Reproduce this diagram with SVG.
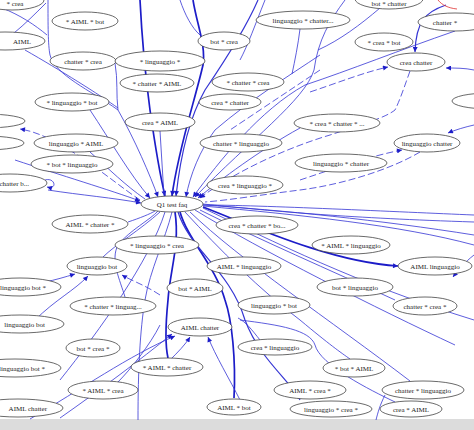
<svg xmlns="http://www.w3.org/2000/svg" width="474" height="430" viewBox="0 0 474 430">
<style>
.e{fill:none;stroke:#3535d4;stroke-width:0.8}
.d{stroke-dasharray:7,3}
.t{stroke-width:1.7;stroke:#1c1cc8}
.n ellipse{fill:#fff;stroke:#444;stroke-width:0.8}
.n text{font-family:"Liberation Serif",serif;font-size:7px;fill:#222;text-anchor:middle}
</style>
<defs>
<marker id="a" viewBox="0 0 10 10" refX="10" refY="5" markerWidth="7" markerHeight="5" orient="auto" markerUnits="userSpaceOnUse"><path d="M0,0L10,5L0,10z" fill="#1c1cc8"/></marker>
</defs>
<rect x="0" y="0" width="474" height="430" fill="#fff"/>
<rect x="0" y="419" width="474" height="11" fill="#dcdcdc"/>
<g id="connectors">
<path class="e" d="M2,8 C20,15 35,25 47,35"/>
<path class="e" d="M46,3 C35,14 25,24 14,33"/>
<path class="e" d="M48,0 C48,25 48,45 50,55 C55,75 90,90 118,110"/>
<path class="e" d="M25,50 C60,70 100,95 118,108"/>
<path class="e" d="M115,63 C118,80 116,95 118,110"/>
<path class="e t" d="M140,0 C142,40 146,80 150,110 C155,145 160,175 165,196" marker-end="url(#a)"/>
<path class="e" d="M118,110 C135,140 150,175 158,197" marker-end="url(#a)"/>
<path class="e" d="M90,110 C110,140 130,175 150,198" marker-end="url(#a)"/>
<path class="e t" d="M193,0 C197,25 206,45 203,65 C195,100 178,150 172,196" marker-end="url(#a)"/>
<path class="e" style="stroke-width:1.2" d="M258,0 C245,30 222,65 205,90 C188,120 180,160 176,196" marker-end="url(#a)"/>
<path class="e" d="M180,0 C185,15 192,28 200,35"/>
<path class="e" d="M265,0 C255,25 248,45 240,60"/>
<path class="e" d="M300,29 C298,45 295,60 292,74"/>
<path class="e" d="M320,55 C290,75 250,100 215,130 C200,150 190,175 186,197" marker-end="url(#a)"/>
<path class="e d" d="M320,70 C290,90 260,110 230,130"/>
<path class="e" d="M160,131 L164,196"/>
<path class="e" d="M345,0 C330,20 318,40 314,70 C305,100 250,140 195,197" marker-end="url(#a)"/>
<path class="e" d="M380,8 C360,25 340,40 318,50"/>
<path class="e" style="stroke-width:1.2" d="M446,5 C425,12 416,22 415,52" marker-end="url(#a)"/>
<path class="e" d="M455,31 C400,50 350,70 305,85 C260,110 220,160 193,197" marker-end="url(#a)"/>
<path class="e d" d="M310,92 C340,82 365,72 388,67" marker-end="url(#a)"/>
<path class="e" d="M474,70 C465,68 455,68 446,68" marker-end="url(#a)"/>
<path class="e d" d="M410,71 C405,85 400,100 395,110 C385,118 360,125 330,135 C280,150 230,175 200,198" marker-end="url(#a)"/>
<path class="e" d="M474,125 C465,127 455,130 448,133" marker-end="url(#a)"/>
<path class="e d" d="M300,180 C330,170 370,156 402,150" marker-end="url(#a)"/>
<path class="e d" d="M420,152 C390,170 340,185 300,190 C260,195 230,200 205,202"/>
<path class="e" d="M300,128 C260,150 220,180 198,198" marker-end="url(#a)"/>
<path class="e t" d="M203,207 C250,225 330,262 398,266" marker-end="url(#a)"/>
<path class="e" d="M203,205 C280,210 380,220 474,235"/>
<path class="e" d="M203,206 C300,215 400,225 474,245"/>
<path class="e" d="M474,255 C465,262 458,270 453,277" marker-end="url(#a)"/>
<path class="e" d="M203,208 C270,240 360,285 474,320"/>
<path class="e" d="M200,210 C260,240 330,270 395,300"/>
<path class="e" d="M203,204 C280,212 350,218 474,222"/>
<path class="e" d="M203,205 C260,205 400,212 474,215"/>
<path class="e t" d="M180,212 C188,240 215,265 225,300 C232,320 236,360 234,398"/>
<path class="e t" d="M175,212 C180,245 170,270 168,300 C166,320 165,345 168,358"/>
<path class="e" style="stroke-width:1.2" d="M178,212 C190,250 230,270 245,320 C260,360 290,380 300,400"/>
<path class="e" d="M172,212 C165,240 150,270 145,300 C140,330 138,370 138,420"/>
<path class="e" d="M185,212 C220,250 260,290 300,320 C330,345 340,352 350,359"/>
<path class="e" d="M190,212 C240,260 330,320 410,381"/>
<path class="e" d="M195,210 C260,250 380,310 455,345"/>
<path class="e" d="M160,212 C140,230 115,245 103,257"/>
<path class="e" d="M35,320 C55,300 75,290 88,276" marker-end="url(#a)"/>
<path class="e" d="M45,282 C55,280 65,277 75,274" marker-end="url(#a)"/>
<path class="e d" d="M160,295 C145,285 130,280 122,275" marker-end="url(#a)"/>
<path class="e" d="M125,297 C120,280 110,260 118,245 C130,230 150,220 158,211"/>
<path class="e" d="M128,222 C140,218 150,214 155,211"/>
<path class="e d" d="M140,200 C110,180 60,135 20,129" marker-end="url(#a)"/>
<path class="e" d="M15,160 C60,175 110,190 140,201" marker-end="url(#a)"/>
<path class="e" d="M48,190 C80,195 115,198 141,203" marker-end="url(#a)"/>
<path class="e" d="M45,180 C55,177 58,190 47,187" marker-end="url(#a)"/>
<path class="e" d="M90,152 C110,170 125,185 145,199"/>
<path class="e" d="M60,418 C100,390 140,360 172,334" marker-end="url(#a)"/>
<path class="e" d="M30,419 C80,390 130,355 175,336" marker-end="url(#a)"/>
<path class="e" d="M170,360 C178,352 185,345 190,337" marker-end="url(#a)"/>
<path class="e" d="M240,400 C230,380 215,355 208,337" marker-end="url(#a)"/>
<path class="e" d="M160,325 C150,345 130,370 118,382"/>
<path class="e" d="M260,340 C252,330 246,322 238,318"/>
<path class="e" d="M385,395 C380,405 378,412 376,420"/>
<path class="e" d="M240,320 C280,325 310,330 315,345 C320,365 370,390 395,402"/>
<path class="e" d="M165,212 C150,260 100,330 60,380"/>
<path fill="none" stroke="#e03030" stroke-width="0.8" d="M438,0 C442,5 448,8 457,9"/>
</g>
<g id="n1" class="n"><ellipse cx="12" cy="0" rx="32" ry="10"/><text x="15" y="6">* crea</text></g>
<g id="n2" class="n"><ellipse cx="5" cy="41" rx="40" ry="9"/><text x="22" y="44">AIML</text></g>
<g id="n3" class="n"><ellipse cx="85" cy="21" rx="33" ry="9"/><text x="85" y="24">* AIML * bot</text></g>
<g id="n4" class="n"><ellipse cx="83" cy="61" rx="33" ry="9"/><text x="83" y="64">chatter * crea</text></g>
<g id="n5" class="n"><ellipse cx="72" cy="102" rx="37" ry="9"/><text x="72" y="105">* linguaggio * bot</text></g>
<g id="n6" class="n"><ellipse cx="224" cy="41" rx="26" ry="9"/><text x="224" y="44">bot * crea</text></g>
<g id="n7" class="n"><ellipse cx="303" cy="20" rx="47" ry="9"/><text x="303" y="23">linguaggio * chatter...</text></g>
<g id="n8" class="n"><ellipse cx="389" cy="-1" rx="34" ry="10"/><text x="389" y="6">bot * chatter</text></g>
<g id="n9" class="n"><ellipse cx="160" cy="61" rx="45" ry="10"/><text x="160" y="64">* linguaggio *</text></g>
<g id="n10" class="n"><ellipse cx="157" cy="83" rx="37" ry="9"/><text x="157" y="86">* chatter * AIML</text></g>
<g id="n11" class="n"><ellipse cx="248" cy="82" rx="36" ry="9"/><text x="248" y="85">* chatter * crea</text></g>
<g id="n12" class="n"><ellipse cx="230" cy="102" rx="31" ry="8"/><text x="230" y="105">crea * chatter</text></g>
<g id="n13" class="n"><ellipse cx="160" cy="122" rx="35" ry="9"/><text x="160" y="125">crea * AIML</text></g>
<g id="n14" class="n"><ellipse cx="241" cy="143" rx="41" ry="9"/><text x="241" y="146">chatter * linguaggio</text></g>
<g id="n15" class="n"><ellipse cx="245" cy="185" rx="38" ry="9"/><text x="245" y="188">crea * linguaggio *</text></g>
<g id="n16" class="n"><ellipse cx="172" cy="204" rx="31" ry="8"/><text x="172" y="207">Q1 test faq</text></g>
<g id="n17" class="n"><ellipse cx="337" cy="123" rx="43" ry="9"/><text x="337" y="126">* crea * chatter * ...</text></g>
<g id="n18" class="n"><ellipse cx="427" cy="143" rx="33" ry="9"/><text x="427" y="146">linguaggio chatter</text></g>
<g id="n19" class="n"><ellipse cx="341" cy="163" rx="46" ry="9"/><text x="341" y="166">linguaggio * chatter</text></g>
<g id="n20" class="n"><ellipse cx="384" cy="42" rx="29" ry="9"/><text x="384" y="45">* crea * bot</text></g>
<g id="n21" class="n"><ellipse cx="416" cy="62" rx="29" ry="9"/><text x="416" y="65">crea chatter</text></g>
<g id="n22" class="n"><ellipse cx="455" cy="22" rx="37" ry="9"/><text x="445" y="25">chatter *</text></g>
<g id="n23" class="n"><ellipse cx="-15" cy="121" rx="40" ry="7"/></g>
<g id="n23b" class="n"><ellipse cx="-15" cy="143" rx="39" ry="7"/></g>
<g id="n24" class="n"><ellipse cx="76" cy="143" rx="42" ry="9"/><text x="76" y="146">linguaggio * AIML</text></g>
<g id="n25" class="n"><ellipse cx="72" cy="164" rx="41" ry="9"/><text x="72" y="167">* bot * linguaggio</text></g>
<g id="n26" class="n"><ellipse cx="10" cy="183" rx="37" ry="9"/><text x="29" y="186" style="text-anchor:end">chatter b...</text></g>
<g id="n27" class="n"><ellipse cx="90" cy="224" rx="38" ry="9"/><text x="90" y="227">AIML * chatter *</text></g>
<g id="n28" class="n"><ellipse cx="157" cy="245" rx="42" ry="9"/><text x="157" y="248">* linguaggio * crea</text></g>
<g id="n29" class="n"><ellipse cx="97" cy="266" rx="30" ry="9"/><text x="97" y="269">linguaggio bot</text></g>
<g id="n30" class="n"><ellipse cx="20" cy="287" rx="41" ry="9"/><text x="46" y="290" style="text-anchor:end">linguaggio bot *</text></g>
<g id="n31" class="n"><ellipse cx="113" cy="306" rx="43" ry="9"/><text x="113" y="309">* chatter * linguag...</text></g>
<g id="n32" class="n"><ellipse cx="257" cy="225" rx="41" ry="9"/><text x="257" y="228">crea * chatter * bo...</text></g>
<g id="n33" class="n"><ellipse cx="244" cy="266" rx="37" ry="9"/><text x="244" y="269">AIML * linguaggio</text></g>
<g id="n34" class="n"><ellipse cx="195" cy="288" rx="28" ry="9"/><text x="195" y="291">bot * AIML</text></g>
<g id="n35" class="n"><ellipse cx="274" cy="305" rx="36" ry="9"/><text x="274" y="308">linguaggio * bot</text></g>
<g id="n36" class="n"><ellipse cx="351" cy="245" rx="39" ry="9"/><text x="351" y="248">* AIML * linguaggio</text></g>
<g id="n37" class="n"><ellipse cx="435" cy="266" rx="37" ry="9"/><text x="435" y="269">AIML linguaggio</text></g>
<g id="n38" class="n"><ellipse cx="355" cy="287" rx="38" ry="9"/><text x="355" y="290">bot * linguaggio</text></g>
<g id="n39" class="n"><ellipse cx="425" cy="306" rx="32" ry="9"/><text x="425" y="309">chatter * crea *</text></g>
<g id="n40" class="n"><ellipse cx="200" cy="327" rx="32" ry="9"/><text x="200" y="330">AIML chatter</text></g>
<g id="n41" class="n"><ellipse cx="275" cy="347" rx="37" ry="8"/><text x="275" y="350">crea * linguaggio</text></g>
<g id="n42" class="n"><ellipse cx="93" cy="348" rx="27" ry="9"/><text x="93" y="351">bot * crea *</text></g>
<g id="n43" class="n"><ellipse cx="20" cy="324" rx="44" ry="9"/><text x="45" y="327" style="text-anchor:end">linguaggio bot</text></g>
<g id="n44" class="n"><ellipse cx="15" cy="368" rx="46" ry="9"/><text x="45" y="371" style="text-anchor:end">linguaggio bot *</text></g>
<g id="n45" class="n"><ellipse cx="103" cy="390" rx="35" ry="9"/><text x="103" y="393">* AIML * crea</text></g>
<g id="n46" class="n"><ellipse cx="18" cy="408" rx="45" ry="9"/><text x="47" y="411" style="text-anchor:end">AIML chatter</text></g>
<g id="n47" class="n"><ellipse cx="167" cy="367" rx="36" ry="9"/><text x="167" y="370">* AIML * chatter</text></g>
<g id="n48" class="n"><ellipse cx="234" cy="407" rx="27" ry="8"/><text x="234" y="410">AIML * bot</text></g>
<g id="n49" class="n"><ellipse cx="310" cy="390" rx="36" ry="9"/><text x="310" y="393">AIML * crea *</text></g>
<g id="n50" class="n"><ellipse cx="331" cy="409" rx="41" ry="8"/><text x="331" y="412">linguaggio * crea *</text></g>
<g id="n51" class="n"><ellipse cx="354" cy="368" rx="31" ry="9"/><text x="354" y="371">* bot * AIML</text></g>
<g id="n52" class="n"><ellipse cx="423" cy="390" rx="41" ry="9"/><text x="423" y="393">chatter * linguaggio</text></g>
<g id="n53" class="n"><ellipse cx="411" cy="409" rx="31" ry="8"/><text x="411" y="412">crea * AIML</text></g>
<g id="n54" class="n"><ellipse cx="490" cy="101" rx="38" ry="8"/></g>
</svg>
